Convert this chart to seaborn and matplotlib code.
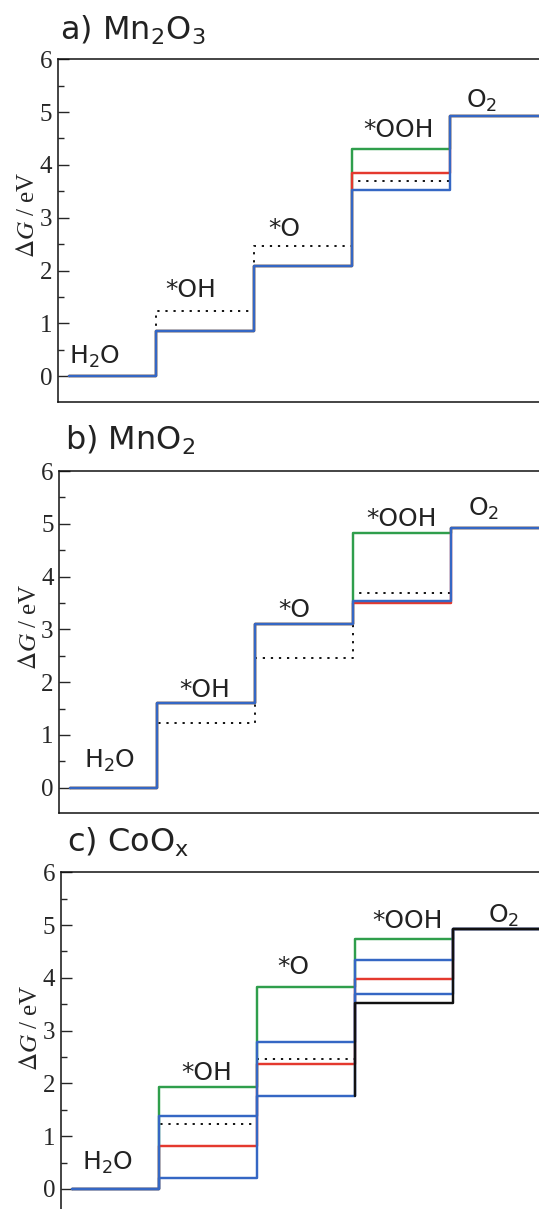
import matplotlib
matplotlib.use("Agg")
import matplotlib.pyplot as plt
from matplotlib.ticker import MultipleLocator
import seaborn as sns
import numpy as np
import pandas as pd

# Reaction intermediates along the OER pathway and step boundaries on the x axis
states = ["H$_2$O", "*OH", "*O", "*OOH", "O$_2$"]
step_edges = [0.11, 1.0, 2.0, 3.0, 4.0, 5.3]

# Ideal catalyst (1.23 eV per step)
ideal = [0.0, 1.23, 2.46, 3.69, 4.92]

# a) Mn2O3
mn2o3_green = [0.0, 0.86, 2.08, 4.30, 4.92]
mn2o3_red = [0.0, 0.86, 2.08, 3.84, 4.92]
mn2o3_blue = [0.0, 0.86, 2.08, 3.52, 4.92]

# b) MnO2
mno2_green = [0.0, 1.60, 3.10, 4.82, 4.92]
mno2_red = [0.0, 1.60, 3.10, 3.49, 4.92]
mno2_blue = [0.0, 1.60, 3.10, 3.54, 4.92]

# c) CoOx
coox_green = [0.0, 1.94, 3.82, 4.74, 4.92]
coox_blue_hi = [0.0, 1.38, 2.79, 4.34, 4.92]
coox_red = [0.0, 0.82, 2.36, 3.98, 4.92]
coox_blue_lo = [0.0, 0.20, 1.76, 3.69, 4.92]
coox_black = [np.nan, np.nan, 1.76, 3.52, 4.92]

titles = ["a) Mn$_2$O$_3$", "b) MnO$_2$", "c) CoO$_\\mathregular{x}$"]

GREEN = "#2f9e4c"
RED = "#e4392e"
BLUE = "#3567c4"
BLACK = "#111111"

sns.set_style("ticks")
plt.rcParams["font.family"] = ["DejaVu Sans"]
plt.rcParams["mathtext.fontset"] = "dejavusans"

fig = plt.figure(figsize=(5.39, 12.09), dpi=100)
W, H = 539.0, 1209.0

# axes geometry in pixels: (left spine x, top spine y, bottom spine y)
geoms = [(57.8, 59.2, 401.7), (59.3, 471.0, 813.0), (60.8, 872.3, 1214.3)]
xmax = 5.3
px_per_step = 98.0

panels = [
    [(ideal, BLACK, "dot"), (mn2o3_green, GREEN, "-"), (mn2o3_red, RED, "-"),
     (mn2o3_blue, BLUE, "-")],
    [(ideal, BLACK, "dot"), (mno2_green, GREEN, "-"), (mno2_red, RED, "-"),
     (mno2_blue, BLUE, "-")],
    [(ideal, BLACK, "dot"), (coox_green, GREEN, "-"), (coox_red, RED, "-"),
     (coox_blue_hi, BLUE, "-"), (coox_blue_lo, BLUE, "-"), (coox_black, BLACK, "-")],
]

# label anchor points (x centre, baseline y) in data units
label_pos = [
    [(0.38, 0.23), (1.36, 1.50), (2.31, 2.66), (3.48, 4.53), (4.32, 5.08)],
    [(0.51, 0.37), (1.48, 1.72), (2.40, 3.24), (3.49, 4.96), (4.33, 5.16)],
    [(0.48, 0.37), (1.49, 2.06), (2.37, 4.08), (3.54, 4.95), (4.52, 5.05)],
]

title_pos = [(60.0, 40.0), (65.3, 450.0), (67.0, 851.7)]


def step_frame(vals):
    """Step path for one energy profile; a path with missing leading levels
    begins as a riser at the edge where its first known level ends."""
    vals = list(vals)
    i0 = next(i for i, v in enumerate(vals) if not np.isnan(v))
    if i0 == 0:
        xs = list(step_edges)
        ys = vals + [vals[-1]]
    else:
        xs = [step_edges[i0 + 1]] + list(step_edges[i0 + 1:])
        ys = [vals[i0]] + vals[i0 + 1:] + [vals[-1]]
    return pd.DataFrame({"x": xs, "G": ys})


for k, ((lx, ty, by), series, lpos) in enumerate(zip(geoms, panels, label_pos)):
    ax = fig.add_axes([lx / W, 1 - by / H, xmax * px_per_step / W, (by - ty) / H])
    for vals, color, style in series:
        df = step_frame(vals)
        if style == "dot":
            sns.lineplot(data=df, x="x", y="G", ax=ax, color=color,
                         drawstyle="steps-post", lw=1.4,
                         linestyle=(0, (1.15, 3.0)), dash_capstyle="butt",
                         estimator=None, sort=False)
        else:
            sns.lineplot(data=df, x="x", y="G", ax=ax, color=color,
                         drawstyle="steps-post", lw=1.75,
                         estimator=None, sort=False)
    ax.set_xlim(0, xmax)
    ax.set_ylim(-0.48, 6)
    ax.set_xticks([])
    ax.set_xlabel("")
    ax.yaxis.set_major_locator(MultipleLocator(1))
    ax.yaxis.set_minor_locator(MultipleLocator(0.5))
    ax.tick_params(axis="y", which="major", direction="in", length=8,
                   width=1.0, pad=4, labelsize=18, left=True, right=False)
    ax.tick_params(axis="y", which="minor", direction="in", length=4,
                   width=1.0, left=True, right=False)
    for lab in ax.get_yticklabels():
        lab.set_fontfamily("Liberation Serif")
    for sp in ax.spines.values():
        sp.set_linewidth(1.1)
        sp.set_color("#111111")
    ax.set_ylabel(r"$\mathit{\Delta G}$ / eV", fontsize=18,
                  fontfamily="Liberation Serif", math_fontfamily="stix")
    ax.yaxis.set_label_coords(-0.036, 0.545)

    for name, (x, y) in zip(states, lpos):
        ax.text(x, y, name, fontsize=18, ha="center", va="baseline", color="#222222")

    tx, tyy = title_pos[k]
    fig.text(tx / W, 1 - tyy / H, titles[k], fontsize=23, ha="left", va="baseline",
             color="#222222")

fig.savefig("out.png", dpi=100)
